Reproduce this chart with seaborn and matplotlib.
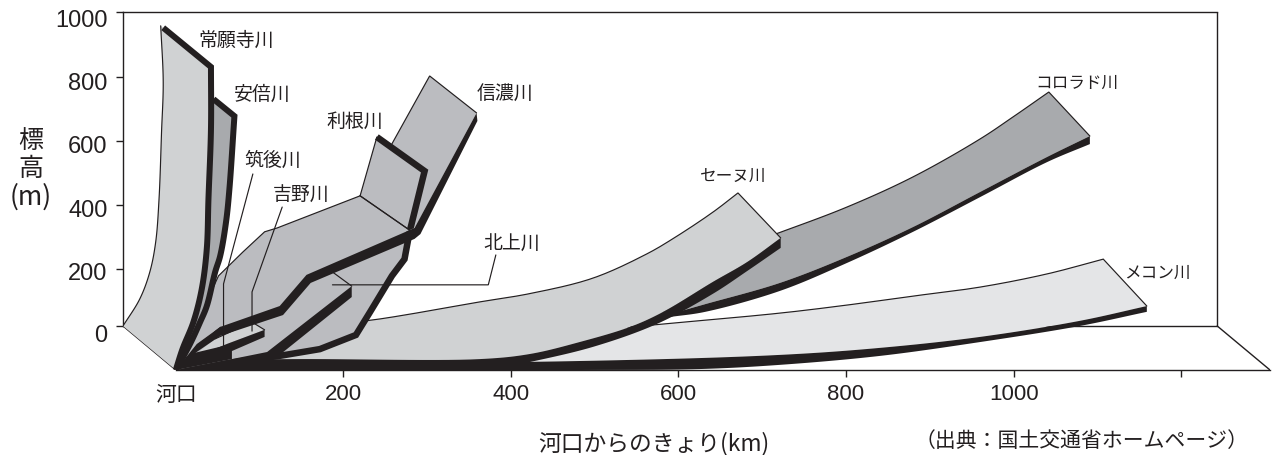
import matplotlib
matplotlib.use("Agg")
import matplotlib.pyplot as plt
import numpy as np
import seaborn as sns
from matplotlib.transforms import ScaledTranslation

# ---- axis data ----
x_ticks = [0, 200, 400, 600, 800, 1000, 1200]
x_labels = ["河口", "200", "400", "600", "800", "1000", ""]
y_ticks = [24, 200, 400, 600, 800, 1000]
y_labels = ["0", "200", "400", "600", "800", "1000"]
floor_left_km, floor_right_km, floor_front_km = -63, 1243, 1306
floor_back_m, floor_front_m, wall_top_m = 24, -113, 1001

# ---- river profiles (km from the mouth, elevation m) ----
jo_back_km = [-63, -43, -31, -24, -20, -17, -15, -18]
jo_back_m = [24, 108, 192, 285, 419, 628, 783, 958]
jo_front_km = [-15, 42, 42, 39, 37, 31, 21, 8, 0]
jo_front_m = [952, 830, 637, 419, 264, 139, 36, -48, -113]

abe_back_km = [0, 29, 38, 45]
abe_back_m = [-113, 77, 419, 735]
abe_front_km = [45, 70, 64, 60, 53, 47, 37, 29, 17, 0]
abe_front_m = [730, 677, 450, 348, 242, 192, 86, 36, -32, -113]

tone_back_km = [0, 148, 220, 240]
tone_back_m = [-113, 264, 429, 612]
tone_front_km = [240, 297, 279, 273, 258, 232, 215, 172, 124, 0]
tone_front_m = [612, 506, 316, 232, 180, 68, -4, -48, -69, -113]

shinano_up_km = [238, 303, 359, 285]
shinano_up_m = [497, 802, 687, 329]
shinano_back_km = [0, 51, 80, 106, 121, 220, 282]
shinano_back_m = [-113, 180, 254, 317, 329, 429, 317]
shinano_top_km = [359, 285, 156, 124, 53, 25, 0]
shinano_top_m = [687, 329, 183, 86, 21, -32, -113]
shinano_under_km = [0, 25, 53, 128, 161, 285, 292, 360]
shinano_under_m = [-113, -57, -7, 58, 158, 295, 310, 662]

yoshino_back_km = [0, 47, 91, 106]
yoshino_back_m = [-113, -16, 36, 12]
yoshino_top_km = [106, 61, 17, 0]
yoshino_top_m = [12, -32, -79, -113]
yoshino_under_km = [0, 67, 106]
yoshino_under_m = [-113, -54, -10]

chikugo_km = [0, 17, 67, 67]
chikugo_m = [-113, -63, -32, -79]

kitakami_back_km = [0, 187, 210]
kitakami_back_m = [-113, 192, 148]
kitakami_top_km = [210, 109, 67, 0]
kitakami_top_m = [148, -57, -79, -113]
kitakami_under_km = [0, 67, 124, 210]
kitakami_under_m = [-113, -94, -66, 114]

seine_back_km = [0, 148, 244, 363, 423, 498, 562, 593, 641, 671, 722]
seine_back_m = [-82, 15, 46, 99, 125, 173, 248, 295, 378, 438, 298]
seine_top_km = [722, 682, 641, 581, 542, 482, 423, 363, 148, 0]
seine_top_m = [298, 223, 161, 67, 21, -26, -63, -79, -79, -82]
seine_under_km = [0, 387, 423, 498, 574, 641, 682, 722]
seine_under_m = [-113, -107, -88, -41, 30, 124, 195, 267]

colorado_back_km = [506, 626, 721, 801, 880, 960, 999, 1042, 1091]
colorado_back_m = [108, 226, 315, 394, 488, 606, 674, 752, 615]
colorado_top_km = [1091, 1040, 960, 880, 801, 721, 632, 590]
colorado_top_m = [615, 550, 441, 332, 239, 158, 92, 61]
colorado_under_km = [590, 632, 721, 801, 880, 960, 1040, 1091]
colorado_under_m = [52, 68, 133, 220, 317, 425, 534, 590]

mekong_back_km = [0, 148, 387, 581, 721, 801, 880, 960, 1040, 1107, 1159]
mekong_back_m = [-97, -63, -16, 30, 64, 89, 117, 145, 186, 232, 86]
mekong_top_km = [1159, 1079, 960, 841, 721, 482, 0]
mekong_top_m = [86, 40, -10, -44, -66, -85, -97]
mekong_under_km = [0, 482, 626, 721, 841, 960, 1079, 1159]
mekong_under_m = [-113, -113, -110, -97, -69, -26, 24, 68]

fold_km = [220, 282]
fold_m = [429, 317]

# ---- leader lines ----
chikugo_lead_km = [92, 57, 57]
chikugo_lead_m = [497, 155, -41]
yoshino_lead_km = [127, 91, 91]
yoshino_lead_m = [394, 130, 8]
kitakami_lead_km = [382, 373, 187]
kitakami_lead_m = [245, 152, 152]

# ---- labels ----
river_names = ["常願寺川", "安倍川", "筑後川", "吉野川", "利根川", "信濃川",
               "北上川", "セーヌ川", "コロラド川", "メコン川"]
name_km = [72, 103, 115, 150, 214, 393, 401, 665, 1075, 1171]
name_m = [917, 749, 541, 435, 665, 749, 282, 494, 783, 192]
name_size = [13.6, 13.6, 13.6, 13.6, 13.6, 13.6, 13.6, 12, 12, 12]
y_label_drop_px = [7, 1.2, 2.2, 3, 4, 5.3]

INK = "#231f20"
PALE = "#e4e5e7"
LIGHT = "#d0d2d3"
MID = "#bbbcc0"
DARK = "#a8aaad"

sns.set_theme(style="white")
plt.rcParams["font.family"] = ["Liberation Sans", "Noto Sans CJK JP", "DejaVu Sans"]
CJK = ["Noto Sans CJK JP", "DejaVu Sans"]

fig = plt.figure(figsize=(12.74, 4.56), dpi=100)
ax = fig.add_axes([123 / 1274, (456 - 371) / 456, (1270 - 123) / 1274, (371 - 13) / 456])
ax.set_xlim(floor_left_km, floor_front_km)
ax.set_ylim(floor_front_m, wall_top_m)
ax.patch.set_alpha(0)


def spline(xs, ys, n=14):
    """Draw-time curve through the read points (centripetal Catmull-Rom)."""
    p = np.column_stack([np.asarray(xs, float) * 0.8375, np.asarray(ys, float) * 0.3213])
    if len(p) < 3:
        return list(xs), list(ys)
    p = np.vstack([2 * p[0] - p[1], p, 2 * p[-1] - p[-2]])
    out = [p[1]]
    for i in range(1, len(p) - 2):
        p0, p1, p2, p3 = p[i - 1], p[i], p[i + 1], p[i + 2]
        t0 = 0.0
        t1 = t0 + np.linalg.norm(p1 - p0) ** 0.5
        t2 = t1 + np.linalg.norm(p2 - p1) ** 0.5
        t3 = t2 + np.linalg.norm(p3 - p2) ** 0.5
        for t in np.linspace(t1, t2, n + 1)[1:]:
            a1 = (t1 - t) / (t1 - t0) * p0 + (t - t0) / (t1 - t0) * p1
            a2 = (t2 - t) / (t2 - t1) * p1 + (t - t1) / (t2 - t1) * p2
            a3 = (t3 - t) / (t3 - t2) * p2 + (t - t2) / (t3 - t2) * p3
            b1 = (t2 - t) / (t2 - t0) * a1 + (t - t0) / (t2 - t0) * a2
            b2 = (t3 - t) / (t3 - t1) * a2 + (t - t1) / (t3 - t1) * a3
            out.append((t2 - t) / (t2 - t1) * b1 + (t - t1) / (t2 - t1) * b2)
    out = np.array(out)
    return list(out[:, 0] / 0.8375), list(out[:, 1] / 0.3213)


def curved_then_corner(xs, ys):
    sx, sy = spline(xs[:-1], ys[:-1])
    return sx + [xs[-1]], sy + [ys[-1]]


def corner_then_curved(xs, ys):
    sx, sy = spline(xs[1:], ys[1:])
    return [xs[0]] + sx, [ys[0]] + sy


def thin(xs, ys, z, lw=0.85):
    sns.lineplot(x=xs, y=ys, sort=False, estimator=None, color=INK, linewidth=lw,
                 ax=ax, zorder=z, legend=False, solid_joinstyle="miter")


def thick(xs, ys, z, px):
    sns.lineplot(x=xs, y=ys, sort=False, estimator=None, color=INK, linewidth=px * 0.72,
                 ax=ax, zorder=z, legend=False, solid_joinstyle="miter", solid_capstyle="butt")


def face(bx, by, fx, fy, color, z):
    ax.fill(list(bx) + list(fx), list(by) + list(fy), color=color, lw=0, zorder=z)


def band(tx, ty, ux, uy, z):
    ax.fill(list(tx) + list(ux), list(ty) + list(uy), color=INK, lw=0, zorder=z)


# floor and walls
thin([floor_right_km, floor_right_km], [wall_top_m, floor_back_m], 1, 1.0)
thin([floor_left_km, floor_right_km], [floor_back_m, floor_back_m], 1, 1.0)
thin([floor_right_km, floor_front_km], [floor_back_m, floor_front_m], 1, 1.0)
thin([floor_left_km, 0], [floor_back_m, floor_front_m], 1, 1.0)

# long rivers, far to near
bx, by = curved_then_corner(mekong_back_km, mekong_back_m)
tx, ty = spline(mekong_top_km, mekong_top_m)
ux, uy = spline(mekong_under_km, mekong_under_m)
face(bx, by, tx, ty, PALE, 2)
thin(bx, by, 2.1)
band(tx, ty, ux, uy, 2.2)

bx, by = curved_then_corner(colorado_back_km, colorado_back_m)
tx, ty = spline(colorado_top_km, colorado_top_m)
ux, uy = spline(colorado_under_km, colorado_under_m)
face(bx, by, tx, ty, DARK, 3)
thin(bx, by, 3.1)
band(tx, ty, ux, uy, 3.2)

bx, by = curved_then_corner(seine_back_km, seine_back_m)
tx, ty = spline(seine_top_km, seine_top_m)
ux, uy = spline(seine_under_km, seine_under_m)
face(bx, by, tx, ty, LIGHT, 4)
thin(bx, by, 4.1)
band(tx, ty, ux, uy, 4.2)

# Shinano upper reach behind Tone
face(shinano_up_km, shinano_up_m, [], [], MID, 5)
thin(shinano_up_km[:3], shinano_up_m[:3], 5.1)

face(tone_back_km, tone_back_m, tone_front_km, tone_front_m, MID, 6)
thin(tone_back_km, tone_back_m, 6.1)
thick(tone_front_km, tone_front_m, 6.2, 6.5)

# Shinano lower reach
face(shinano_back_km, shinano_back_m, shinano_top_km, shinano_top_m, MID, 7)
thin(shinano_back_km, shinano_back_m, 7.1)
thin(fold_km, fold_m, 7.1)

# short rivers
face(kitakami_back_km, kitakami_back_m, kitakami_top_km, kitakami_top_m, MID, 8)
thin(kitakami_back_km[1:], kitakami_back_m[1:], 8.1)
band(kitakami_top_km, kitakami_top_m, kitakami_under_km, kitakami_under_m, 8.2)

face(yoshino_back_km, yoshino_back_m, yoshino_top_km, yoshino_top_m, LIGHT, 9)
thin(yoshino_back_km[1:], yoshino_back_m[1:], 9.1)
band(yoshino_top_km, yoshino_top_m, yoshino_under_km, yoshino_under_m, 9.2)
ax.fill(chikugo_km, chikugo_m, color=INK, lw=0, zorder=9.3)

band(shinano_top_km, shinano_top_m, shinano_under_km, shinano_under_m, 10)

# steep rivers
fx, fy = corner_then_curved(abe_front_km, abe_front_m)
face(abe_back_km, abe_back_m, fx, fy, DARK, 11)
thick(fx, fy, 11.1, 6)

bx, by = spline(jo_back_km, jo_back_m)
fx, fy = corner_then_curved(jo_front_km, jo_front_m)
face(bx, by, fx, fy, LIGHT, 12)
thin(bx, by, 12.1)
thick(fx, fy, 12.2, 6)

# leader lines
for lx, ly in [(chikugo_lead_km, chikugo_lead_m), (yoshino_lead_km, yoshino_lead_m),
               (kitakami_lead_km, kitakami_lead_m)]:
    thin(lx, ly, 13)

for name, kx, my, fs in zip(river_names, name_km, name_m, name_size):
    ax.text(kx, my, name, ha="center", va="center", fontsize=fs, color=INK,
            family=CJK, zorder=14)

# axes
ax.spines["right"].set_visible(False)
for side in ("left", "top", "bottom"):
    ax.spines[side].set_visible(True)
    ax.spines[side].set_color(INK)
    ax.spines[side].set_linewidth(1.0)
ax.spines["left"].set_bounds(floor_back_m, wall_top_m)
ax.spines["top"].set_bounds(floor_left_km, floor_right_km)
ax.spines["bottom"].set_bounds(0, floor_front_km)

ax.set_xticks(x_ticks, x_labels)
ax.set_yticks(y_ticks, y_labels)
ax.tick_params(axis="both", which="major", length=5, width=1.0, color=INK,
               labelcolor=INK, bottom=True, left=True)
ax.tick_params(axis="x", pad=4.5, labelsize=16)
ax.tick_params(axis="y", pad=6, labelsize=17)
ax.xaxis.get_major_ticks()[0].tick1line.set_visible(False)
ax.get_xticklabels()[0].set_family(CJK)
ax.get_xticklabels()[0].set_fontsize(15)

for lab, drop in zip(ax.get_yticklabels(), y_label_drop_px):
    lab.set_transform(lab.get_transform() + ScaledTranslation(0, -drop / 100, fig.dpi_scale_trans))

ax.set_ylabel("")
ax.set_xlabel("")
fig.text(31 / 1274, 1 - 141 / 456, "標", ha="center", va="center", fontsize=18, color=INK, family=CJK)
fig.text(31 / 1274, 1 - 169 / 456, "高", ha="center", va="center", fontsize=18, color=INK, family=CJK)
fig.text(31 / 1274, 1 - 197 / 456, "(m)", ha="center", va="center", fontsize=19, color=INK, family=CJK)
fig.text(654 / 1274, 1 - 444 / 456, "河口からのきょり(km)", ha="center", va="center",
         fontsize=16.4, color=INK, family=CJK)
fig.text(1082 / 1274, 1 - 441 / 456, "（出典：国土交通省ホームページ）", ha="center",
         va="center", fontsize=15, color=INK, family=CJK)

fig.savefig("out.png", dpi=100)
